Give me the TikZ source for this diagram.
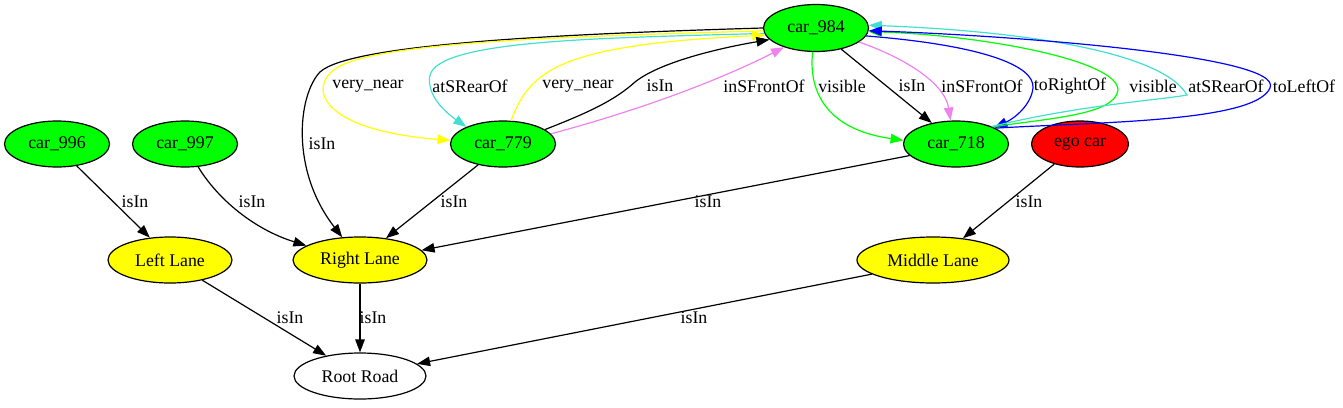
\documentclass[tikz,border=0pt]{standalone}
\usepackage{fontspec}
\setmainfont{Liberation Serif}
\usetikzlibrary{shapes.geometric,arrows.meta}
\definecolor{gvgreen}{HTML}{00FF00}
\definecolor{gvred}{HTML}{FF0000}
\definecolor{gvyellow}{HTML}{FFFF00}
\definecolor{gvturq}{HTML}{40E0D0}
\definecolor{gvviolet}{HTML}{EE82EE}
\definecolor{gvblue}{HTML}{0000FF}
\tikzset{
  every node/.style={font=\fontsize{17.8}{20}\selectfont},
  ell/.style={ellipse, draw=black, line width=1.2pt, inner sep=0pt, minimum height=46pt},
  carnode/.style={ell, fill=gvgreen, minimum width=105pt},
  lanenode/.style={ell, fill=gvyellow},
  lbl/.style={inner sep=1pt},
  edge/.style={line width=1.2pt, -{Triangle[length=13pt,width=9.5pt]}},
}
\begin{document}
\begin{tikzpicture}[x=1pt,y=-1pt]
\useasboundingbox (0,0) rectangle (1343,407);
% nodes
\node[carnode, minimum height=47pt] (c984) at (816,28) {car\_984};
\node[carnode] (c779) at (503,144) {car\_779};
\node[carnode] (c718) at (956,144) {car\_718};
\node[ell, fill=gvred, minimum width=97pt] (ego) at (1080,144) {ego car};
\node[carnode] (c996) at (57,144) {car\_996};
\node[carnode] (c997) at (185,144) {car\_997};
\node[lanenode, minimum width=124pt] (left) at (170,260) {Left Lane};
\node[lanenode, minimum width=134pt] (right) at (360,260) {Right Lane};
\node[lanenode, minimum width=152pt] (middle) at (933,260) {Middle Lane};
\node[ell, fill=white, minimum width=132pt] (root) at (360,376) {Root Road};

% lower edges
\draw[edge] (c996.312) -- (left.132);
\draw[edge] (c997.300) .. controls (215,195) and (250,228) .. (right.165);
\draw[edge] (c779.220) -- (right.40);
\draw[edge] (c718.194) -- (right.9);
\draw[edge] (ego.218) -- (middle.36);
\draw[edge] (left.328) -- (root.149);
\draw[edge] (right.south) -- (root.north);
\draw[edge] (middle.193) -- (root.12);
\draw[edge] (c984.180) .. controls (560,34) and (350,44) .. (320,72)
  .. controls (298,95) and (290,170) .. (right.128);

% edges around car_779
\draw[edge, gvyellow] (c984.183) .. controls (600,36) and (390,40) .. (340,66)
  .. controls (305,85) and (318,130) .. (c779.176);
\draw[edge, gvturq] (c984.186) .. controls (600,38) and (440,40) .. (430,75)
  .. controls (426,95) and (445,112) .. (c779.155);
\draw[edge, gvyellow] (c779.71) .. controls (530,70) and (560,45) .. (c984.188);
\draw[edge] (c779.19) .. controls (590,112) and (615,100) .. (635,82)
  .. controls (660,62) and (720,48) .. (c984.194);
\draw[edge, gvviolet] (c779.12) .. controls (640,110) and (720,80) .. (c984.211);

% edges around car_718
\draw[edge, gvgreen] (c984.262) .. controls (808,95) and (830,130) .. (c718.176);
\draw[edge] (c984.320) -- (c718.139);
\draw[edge, gvviolet] (c984.342) .. controls (910,60) and (945,85) .. (c718.103);
\draw[edge, gvblue] (c984.351) .. controls (980,45) and (1035,65) .. (1033,88)
  .. controls (1031,105) and (1015,118) .. (c718.23);
\draw[edge, gvgreen] (c718.25) .. controls (1050,118) and (1115,115) .. (1118,90)
  .. controls (1118,60) and (980,35) .. (c984.356);
\draw[edge, gvturq] (c718.26) .. controls (1080,105) and (1160,100) .. (1187,95)
  .. controls (1160,48) and (1000,30) .. (c984.3);
\draw[edge, gvblue] (c718.22) .. controls (1100,122) and (1255,122) .. (1270,88)
  .. controls (1285,55) and (1000,35) .. (c984.357);

% labels
\node[lbl] (l1) at (135,202) {isIn};
\node[lbl] (l2) at (252,202) {isIn};
\node[lbl] (l3) at (322,144) {isIn};
\node[lbl] (l4) at (454,202) {isIn};
\node[lbl] (l5) at (708,202) {isIn};
\node[lbl] (l6) at (1029,202) {isIn};
\node[lbl] (l7) at (290,318) {isIn};
\node[lbl] (l8) at (373,318) {isIn};
\node[lbl] (l9) at (694,318) {isIn};
\node[lbl] (m1) at (368,86) {very\_near};
\node[lbl] (m2) at (470,86) {atSRearOf};
\node[lbl] (m3) at (578,86) {very\_near};
\node[lbl] (m4) at (660,86) {isIn};
\node[lbl] (m5) at (764,86) {inSFrontOf};
\node[lbl] (m6) at (842,86) {visible};
\node[lbl] (m7) at (912,86) {isIn};
\node[lbl] (m8) at (982,86) {inSFrontOf};
\node[lbl] (m9) at (1070,86) {toRightOf};
\node[lbl] (m10) at (1153,86) {visible};
\node[lbl] (m11) at (1226,86) {atSRearOf};
\node[lbl] (m12) at (1304,86) {toLeftOf};
\end{tikzpicture}
\end{document}
